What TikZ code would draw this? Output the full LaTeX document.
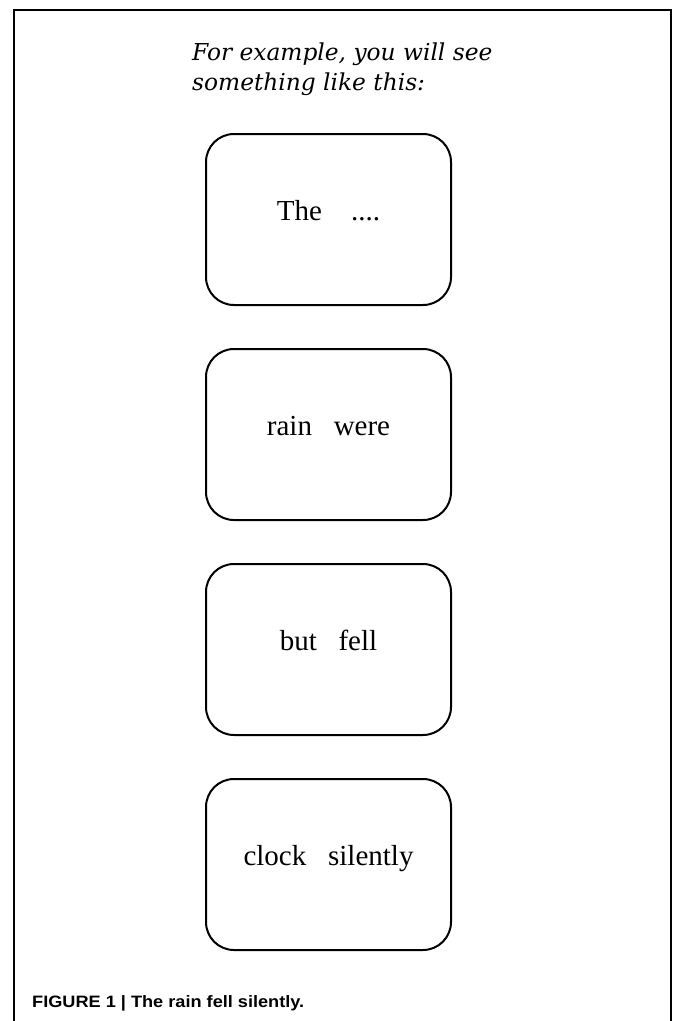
\documentclass[tikz,border=0pt]{standalone}
\usepackage{fontspec}
\setmainfont{Liberation Serif}
\newfontfamily\titlefont{DejaVu Serif}
\newfontfamily\capfont[FakeStretch=1.1]{Liberation Sans}
\usetikzlibrary{positioning}

\begin{document}
\begin{tikzpicture}[x=1pt,y=-1pt,node distance=42pt,
  card/.style={draw,line width=2pt,rounded corners=28pt,
               minimum width=245pt,minimum height=171pt,
               text height=2pt,text depth=0pt,
               font=\fontsize{29}{34}\selectfont}]
  \useasboundingbox (0,0) rectangle (673,1021);
  % open frame round the figure
  \draw[line width=2pt] (13.5,1021) |- (671,9.5) -- (671,1021);
  \node[anchor=base west,align=left,inner sep=0pt,
        font=\titlefont\itshape\fontsize{23.3}{30}\selectfont] (Q) at (192,90)
        {For example, you will see\\something like this:};
  \node[card] (A) at (328.5,219.5) {The~~~~....};
  \node[card,below=of A] (B) {rain~~~were};
  \node[card,below=of B] (C) {but~~~fell};
  \node[card,below=of C] (D) {clock~~~silently};
  \node[anchor=base west,inner sep=0pt,
        font=\capfont\bfseries\fontsize{16.5}{20}\selectfont] (F) at (32,1007)
        {FIGURE 1 | The rain fell silently.};
\end{tikzpicture}
\end{document}
